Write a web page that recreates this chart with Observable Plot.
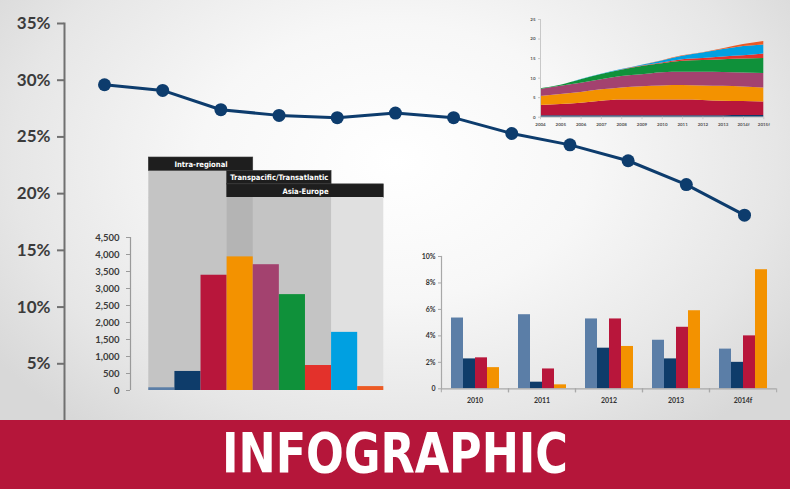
<!DOCTYPE html>
<html>
<head>
<meta charset="utf-8">
<script src="https://cdn.jsdelivr.net/npm/d3@7"></script>
<script src="https://cdn.jsdelivr.net/npm/@observablehq/plot@0.6"></script>
<style>
  html, body { margin: 0; padding: 0; }
  body {
    width: 790px; height: 489px; overflow: hidden; position: relative;
    background: radial-gradient(ellipse 62% 70% at 50% 33%, #ffffff 0%, #f7f7f7 40%, #e6e6e6 78%, #d8d8d8 100%);
    font-family: Lato, "DejaVu Sans", sans-serif;
  }
  .layer { position: absolute; }
  .layer svg { display: block; overflow: visible; }
  #banner { position: absolute; left: 0; top: 420px; width: 790px; height: 69px; background: #b5163a; }
  #banner svg { display: block; }
</style>
</head>
<body>
<div id="main" class="layer" style="left:0;top:0"></div>
<div id="area" class="layer" style="left:520px;top:10px"></div>
<div id="heads" class="layer" style="left:80px;top:157px"></div>
<div id="bars" class="layer" style="left:80px;top:197px"></div>
<div id="growth" class="layer" style="left:400px;top:240px"></div>
<div id="banner">
  <svg width="790" height="69">
    <text x="395" y="52" text-anchor="middle" font-family="'DejaVu Sans Condensed', 'DejaVu Sans', sans-serif"
          font-weight="bold" font-size="56" fill="#ffffff" textLength="346" lengthAdjust="spacingAndGlyphs">INFOGRAPHIC</text>
  </svg>
</div>
<script>
// ================= DATA =================
// Main line chart (share, %)
const mainShare = [29.6, 29.1, 27.4, 26.9, 26.7, 27.1, 26.7, 25.3, 24.3, 22.9, 20.8, 18.1];
const mainTicks = [5, 10, 15, 20, 25, 30, 35];

// Size classes (shared by the two small charts)
const classes = ["Class 1", "Class 2", "Class 3", "Class 4", "Class 5", "Class 6", "Class 7", "Class 8", "Class 9"];

// Top-right stacked area chart
const areaYears = ["2004", "2005", "2006", "2007", "2008", "2009", "2010", "2011", "2012", "2013", "2014f", "2015f"];
const areaTicks = [0, 5, 10, 15, 20, 25];
const areaClass2 = [0.35, 0.35, 0.35, 0.35, 0.4, 0.4, 0.4, 0.4, 0.4, 0.4, 0.45, 0.45];
const areaClass3 = [2.65, 2.9, 3.25, 3.75, 4.0, 4.0, 4.0, 4.0, 3.9, 3.7, 3.55, 3.45];
const areaClass4 = [2.3, 2.55, 2.7, 2.9, 3.1, 3.4, 3.6, 3.7, 3.7, 3.8, 3.7, 3.6];
const areaClass5 = [1.8, 2.1, 2.4, 2.6, 2.9, 3.05, 3.4, 3.4, 3.5, 3.55, 3.6, 3.7];
const areaClass6 = [0.2, 0.3, 0.9, 1.3, 1.6, 2.15, 2.3, 2.8, 3.0, 3.25, 3.6, 3.8];
const areaClass7 = [0, 0, 0, 0.05, 0.1, 0.1, 0.2, 0.4, 0.5, 0.7, 0.8, 1.2];
const areaClass8 = [0, 0, 0.05, 0.05, 0.1, 0.2, 0.5, 0.9, 1.4, 1.9, 2.4, 2.3];
const areaClass9 = [0, 0, 0, 0, 0, 0, 0.05, 0.1, 0.1, 0.2, 0.5, 0.9];

// Middle-left bar chart (capacity)
const capacity = [80, 560, 3390, 3930, 3700, 2820, 735, 1710, 115];
const capTicks = [0, 500, 1000, 1500, 2000, 2500, 3000, 3500, 4000, 4500];
const routeNames = ["Intra-regional", "Transpacific/Transatlantic", "Asia-Europe"];
const routeFirstClass = [0, 3, 3];   // first size class served (index)
const routeLastClass = [3, 6, 8];    // last size class served (index)

// Bottom-right grouped bar chart (growth, %)
const growthYears = ["2010", "2011", "2012", "2013", "2014f"];
const growthSeries = ["Series A", "Series B", "Series C", "Series D"];
const growthA = [5.35, 5.6, 5.28, 3.67, 3.0];
const growthB = [2.26, 0.5, 3.07, 2.26, 2.0];
const growthC = [2.34, 1.5, 5.28, 4.65, 4.0];
const growthD = [1.6, 0.3, 3.2, 5.9, 9.0];
const growthTicks = [0, 2, 4, 6, 8, 10];

// ================= STYLES =================
const classColors = ["#5b7ea7", "#0e3c6a", "#b8163b", "#f39200", "#a3426f", "#0f913a", "#e3312b", "#00a0e1", "#ec5a24"];
const seriesColors = ["#5b7ea7", "#0e3c6a", "#b8163b", "#f39200"];
const lineColor = "#0d3c6d";
const shadeSingle = "#c4c4c4", shadeLight = "#e0e0e0", shadeOverlap = "#b4b4b4";
const tr = {background: "transparent", overflow: "visible"};

// ================= MAIN LINE CHART =================
const mainData = mainShare.map((v, i) => ({i, v}));
const main = Plot.plot({
  width: 790, height: 420,
  marginTop: 23, marginBottom: 0, marginLeft: 64, marginRight: 46,
  x: {domain: [0, mainShare.length - 1], insetLeft: 40, axis: null},
  y: {domain: [0, 35], axis: null},
  style: {...tr, fontFamily: "Lato, sans-serif", fontSize: "17px", fontWeight: "bold", color: "#3b3b3b"},
  marks: [
    Plot.frame({anchor: "left", stroke: "#707070", strokeWidth: 2}),
    Plot.axisY(mainTicks, {tickSize: 7, tickPadding: 7, strokeWidth: 2, stroke: "#707070", label: null,
      tickFormat: d => d + "%", fontSize: 17, fontWeight: "bold"}),
    Plot.line(mainData, {x: "i", y: "v", stroke: lineColor, strokeWidth: 3}),
    Plot.dot(mainData, {x: "i", y: "v", r: 6.5, fill: lineColor})
  ]
});
document.getElementById("main").append(main);

// ================= AREA CHART =================
const areaArrays = [areaClass2, areaClass3, areaClass4, areaClass5, areaClass6, areaClass7, areaClass8, areaClass9];
const areaClasses = classes.slice(1);
const areaData = [];
areaArrays.forEach((arr, k) => arr.forEach((v, i) => areaData.push({i, cls: areaClasses[k], value: v})));
const area = Plot.plot({
  width: 260, height: 125,
  marginTop: 9, marginBottom: 18.3, marginLeft: 20, marginRight: 16.7,
  x: {domain: [0, areaYears.length - 1], axis: null},
  y: {domain: [0, 25], axis: null},
  color: {domain: areaClasses, range: classColors.slice(1)},
  style: {...tr, fontFamily: "Lato, sans-serif", fontSize: "5px", fontWeight: "bold", color: "#555"},
  marks: [
    Plot.areaY(areaData, {x: "i", y: "value", fill: "cls", order: areaClasses, curve: "monotone-x"}),
    Plot.ruleX([0], {y1: 0, y2: 25, stroke: "#c8c8c8"}),
    Plot.ruleY([0], {stroke: "#c8c8c8"}),
    Plot.axisY(areaTicks, {tickSize: 2, tickPadding: 3, stroke: "#c8c8c8", fontSize: 4.5, label: null}),
    Plot.axisX(d3.range(areaYears.length), {tickSize: 2.5, tickPadding: 3, stroke: "#c8c8c8", label: null,
      tickFormat: i => areaYears[i], fontSize: 4.5})
  ]
});
document.getElementById("area").append(area);

// ================= CAPACITY BAR CHART =================
const nClasses = classes.length;
const routes = routeNames.map((name, row) => ({
  name, row, x1: routeFirstClass[row], x2: routeLastClass[row] + 1
}));
const capData = capacity.map((v, i) => ({i, cls: classes[i], v}));
const xOpts = {domain: [0, nClasses], insetLeft: 18.3, axis: null};

// header boxes
const heads = Plot.plot({
  width: 310, height: 40.3,
  marginTop: 0, marginBottom: 0, marginLeft: 50, marginRight: 6.7,
  x: xOpts,
  y: {domain: [0, routes.length], reverse: true, axis: null},
  style: {...tr},
  marks: [
    Plot.rect(routes, {x1: "x1", x2: "x2", y1: d => d.row + 1, y2: routes.length, fill: shadeSingle}),
    Plot.rect(routes, {x1: "x1", x2: "x2", y1: "row", y2: d => d.row + 1, fill: "#1e1e1e", stroke: "#3a3a3a", strokeWidth: 0.6}),
    Plot.text(routes, {x: d => (d.x1 + d.x2) / 2, y: d => d.row + 0.5, text: "name", fill: "#ffffff",
      fontSize: 7.6, fontWeight: "bold", fontFamily: "'Liberation Sans Narrow', 'DejaVu Sans Condensed', sans-serif"})
  ]
});
document.getElementById("heads").append(heads);

// background shading per route (drawn widest/lightest first) and overlap of all routes
const shadeRects = [
  {x1: routes[2].x1, x2: routes[2].x2, fill: shadeLight},
  {x1: routes[1].x1, x2: routes[1].x2, fill: shadeSingle},
  {x1: routes[0].x1, x2: routes[0].x2, fill: shadeSingle},
  {x1: d3.max(routes, r => r.x1), x2: d3.min(routes, r => r.x2), fill: shadeOverlap}
];
const bars = Plot.plot({
  width: 310, height: 200,
  marginTop: 0, marginBottom: 7, marginLeft: 50, marginRight: 6.7,
  x: xOpts,
  y: {domain: [0, d3.max(capTicks)], insetTop: 40, axis: null},
  color: {domain: classes, range: classColors},
  style: {...tr, fontFamily: "Lato, sans-serif", fontSize: "9.5px", fontWeight: "bold", color: "#3b3b3b"},
  marks: [
    Plot.rect(shadeRects, {x1: "x1", x2: "x2", fill: d => d.fill}),
    Plot.rectY(capData, {x1: "i", x2: d => d.i + 1, y: "v", fill: "cls"}),
    Plot.ruleX([0], {y1: 0, y2: d3.max(capTicks), dx: -18.3, stroke: "#9a9a9a", strokeWidth: 1.2}),
    Plot.axisY(capTicks, {tickSize: 4, tickPadding: 7, stroke: "#9a9a9a", tickFormat: d3.format(","), label: null,
      fontSize: 9.5, fontWeight: "bold"})
  ]
});
document.getElementById("bars").append(bars);

// ================= GROWTH GROUPED BAR CHART =================
const growthArrays = [growthA, growthB, growthC, growthD];
const growthData = [];
growthYears.forEach((year, j) => growthSeries.forEach((s, k) => growthData.push({year, series: s, value: growthArrays[k][j]})));
const gW = 385, gML = 40, gMR = 8.3;
const halfGroup = (gW - gML - gMR) / growthYears.length / 2;
const growth = Plot.plot({
  width: gW, height: 175,
  marginTop: 16, marginBottom: 26.7, marginLeft: gML, marginRight: gMR,
  fx: {domain: growthYears, padding: 0, axis: null},
  x: {domain: growthSeries, paddingInner: 0, paddingOuter: 0.73, axis: null},
  y: {domain: [0, 10], axis: null},
  color: {domain: growthSeries, range: seriesColors},
  style: {...tr, fontFamily: "Lato, sans-serif", fontSize: "7px", fontWeight: "bold", color: "#333"},
  marks: [
    Plot.barY(growthData, {fx: "year", x: "series", y: "value", fill: "series"}),
    Plot.ruleY([0], {stroke: "#a8a8a8", strokeWidth: 1.2}),
    Plot.frame({anchor: "left", facetAnchor: "left", stroke: "#a8a8a8", strokeWidth: 1.2}),
    Plot.axisY(growthTicks, {tickSize: 3, tickPadding: 3, stroke: "#a8a8a8", label: null,
      tickFormat: d => d ? d + "%" : "0", fontSize: 7, fontWeight: "bold"}),
    Plot.axisFx({anchor: "bottom", tickSize: 4, tickFormat: () => "", dx: -halfGroup, stroke: "#a8a8a8", label: null}),
    Plot.axisFx({anchor: "bottom", tickSize: 4, tickFormat: () => "", dx: halfGroup, stroke: "#a8a8a8", label: null}),
    Plot.axisFx({anchor: "bottom", tickSize: 0, tickPadding: 9, fontSize: 7, fontWeight: "bold", label: null})
  ]
});
document.getElementById("growth").append(growth);
</script>
</body>
</html>
